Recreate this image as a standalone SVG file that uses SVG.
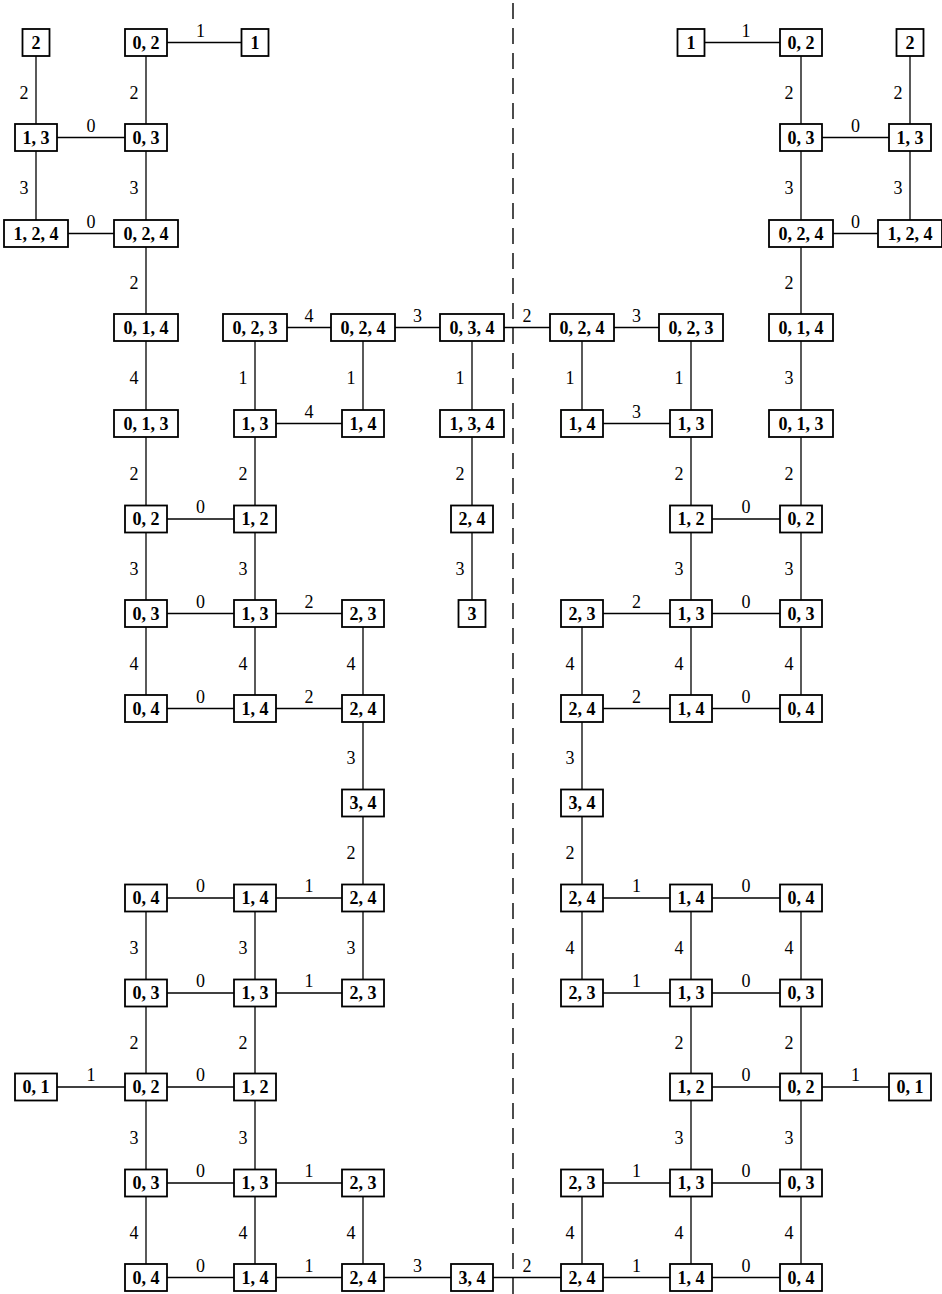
<svg xmlns="http://www.w3.org/2000/svg" width="942" height="1294" viewBox="0 0 942 1294">
<style>
.node rect{fill:#fff;stroke:#000;stroke-width:1.8}
.node text{font-family:"Liberation Serif","Times New Roman",serif;font-weight:bold;font-size:18px;text-anchor:middle;fill:#000}
#connectors line{stroke:#000;stroke-width:1.3}
#labels text{font-family:"Liberation Serif","Times New Roman",serif;font-size:18px;text-anchor:middle;fill:#000}
#divider{stroke:#000;stroke-width:1.4;stroke-dasharray:16 9}
</style>
<rect width="942" height="1294" fill="#fff"/>
<line id="divider" x1="513" y1="3" x2="513" y2="1294"/>
<g id="connectors">
<line x1="36" y1="42.5" x2="36" y2="137.5"/>
<line x1="146" y1="42.5" x2="255" y2="42.5"/>
<line x1="146" y1="42.5" x2="146" y2="137.5"/>
<line x1="36" y1="137.5" x2="146" y2="137.5"/>
<line x1="36" y1="137.5" x2="36" y2="233.5"/>
<line x1="146" y1="137.5" x2="146" y2="233.5"/>
<line x1="36" y1="233.5" x2="146" y2="233.5"/>
<line x1="146" y1="233.5" x2="146" y2="327.5"/>
<line x1="146" y1="327.5" x2="146" y2="423.5"/>
<line x1="146" y1="423.5" x2="146" y2="519"/>
<line x1="255" y1="327.5" x2="363" y2="327.5"/>
<line x1="363" y1="327.5" x2="472" y2="327.5"/>
<line x1="472" y1="327.5" x2="582" y2="327.5"/>
<line x1="255" y1="327.5" x2="255" y2="423.5"/>
<line x1="363" y1="327.5" x2="363" y2="423.5"/>
<line x1="472" y1="327.5" x2="472" y2="423.5"/>
<line x1="255" y1="423.5" x2="363" y2="423.5"/>
<line x1="255" y1="423.5" x2="255" y2="519"/>
<line x1="472" y1="423.5" x2="472" y2="519"/>
<line x1="146" y1="519" x2="255" y2="519"/>
<line x1="146" y1="519" x2="146" y2="613.5"/>
<line x1="255" y1="519" x2="255" y2="613.5"/>
<line x1="472" y1="519" x2="472" y2="613.5"/>
<line x1="146" y1="613.5" x2="255" y2="613.5"/>
<line x1="255" y1="613.5" x2="363" y2="613.5"/>
<line x1="146" y1="613.5" x2="146" y2="708.5"/>
<line x1="255" y1="613.5" x2="255" y2="708.5"/>
<line x1="363" y1="613.5" x2="363" y2="708.5"/>
<line x1="146" y1="708.5" x2="255" y2="708.5"/>
<line x1="255" y1="708.5" x2="363" y2="708.5"/>
<line x1="363" y1="708.5" x2="363" y2="803"/>
<line x1="363" y1="803" x2="363" y2="898"/>
<line x1="146" y1="898" x2="255" y2="898"/>
<line x1="255" y1="898" x2="363" y2="898"/>
<line x1="146" y1="898" x2="146" y2="993"/>
<line x1="255" y1="898" x2="255" y2="993"/>
<line x1="363" y1="898" x2="363" y2="993"/>
<line x1="146" y1="993" x2="255" y2="993"/>
<line x1="255" y1="993" x2="363" y2="993"/>
<line x1="146" y1="993" x2="146" y2="1087"/>
<line x1="255" y1="993" x2="255" y2="1087"/>
<line x1="36" y1="1087" x2="146" y2="1087"/>
<line x1="146" y1="1087" x2="255" y2="1087"/>
<line x1="146" y1="1087" x2="146" y2="1183"/>
<line x1="255" y1="1087" x2="255" y2="1183"/>
<line x1="146" y1="1183" x2="255" y2="1183"/>
<line x1="255" y1="1183" x2="363" y2="1183"/>
<line x1="146" y1="1183" x2="146" y2="1277.5"/>
<line x1="255" y1="1183" x2="255" y2="1277.5"/>
<line x1="363" y1="1183" x2="363" y2="1277.5"/>
<line x1="146" y1="1277.5" x2="255" y2="1277.5"/>
<line x1="255" y1="1277.5" x2="363" y2="1277.5"/>
<line x1="363" y1="1277.5" x2="472" y2="1277.5"/>
<line x1="472" y1="1277.5" x2="582" y2="1277.5"/>
<line x1="691" y1="42.5" x2="801" y2="42.5"/>
<line x1="801" y1="42.5" x2="801" y2="137.5"/>
<line x1="910" y1="42.5" x2="910" y2="137.5"/>
<line x1="801" y1="137.5" x2="910" y2="137.5"/>
<line x1="801" y1="137.5" x2="801" y2="233.5"/>
<line x1="910" y1="137.5" x2="910" y2="233.5"/>
<line x1="801" y1="233.5" x2="910" y2="233.5"/>
<line x1="801" y1="233.5" x2="801" y2="327.5"/>
<line x1="582" y1="327.5" x2="691" y2="327.5"/>
<line x1="582" y1="327.5" x2="582" y2="423.5"/>
<line x1="691" y1="327.5" x2="691" y2="423.5"/>
<line x1="801" y1="327.5" x2="801" y2="423.5"/>
<line x1="582" y1="423.5" x2="691" y2="423.5"/>
<line x1="691" y1="423.5" x2="691" y2="519"/>
<line x1="801" y1="423.5" x2="801" y2="519"/>
<line x1="691" y1="519" x2="801" y2="519"/>
<line x1="691" y1="519" x2="691" y2="613.5"/>
<line x1="801" y1="519" x2="801" y2="613.5"/>
<line x1="582" y1="613.5" x2="691" y2="613.5"/>
<line x1="691" y1="613.5" x2="801" y2="613.5"/>
<line x1="582" y1="613.5" x2="582" y2="708.5"/>
<line x1="691" y1="613.5" x2="691" y2="708.5"/>
<line x1="801" y1="613.5" x2="801" y2="708.5"/>
<line x1="582" y1="708.5" x2="691" y2="708.5"/>
<line x1="691" y1="708.5" x2="801" y2="708.5"/>
<line x1="582" y1="708.5" x2="582" y2="803"/>
<line x1="582" y1="803" x2="582" y2="898"/>
<line x1="582" y1="898" x2="691" y2="898"/>
<line x1="691" y1="898" x2="801" y2="898"/>
<line x1="582" y1="898" x2="582" y2="993"/>
<line x1="691" y1="898" x2="691" y2="993"/>
<line x1="801" y1="898" x2="801" y2="993"/>
<line x1="582" y1="993" x2="691" y2="993"/>
<line x1="691" y1="993" x2="801" y2="993"/>
<line x1="691" y1="993" x2="691" y2="1087"/>
<line x1="801" y1="993" x2="801" y2="1087"/>
<line x1="691" y1="1087" x2="801" y2="1087"/>
<line x1="801" y1="1087" x2="910" y2="1087"/>
<line x1="691" y1="1087" x2="691" y2="1183"/>
<line x1="801" y1="1087" x2="801" y2="1183"/>
<line x1="582" y1="1183" x2="691" y2="1183"/>
<line x1="691" y1="1183" x2="801" y2="1183"/>
<line x1="582" y1="1183" x2="582" y2="1277.5"/>
<line x1="691" y1="1183" x2="691" y2="1277.5"/>
<line x1="801" y1="1183" x2="801" y2="1277.5"/>
<line x1="582" y1="1277.5" x2="691" y2="1277.5"/>
<line x1="691" y1="1277.5" x2="801" y2="1277.5"/>
</g>
<g id="labels">
<text x="24" y="98.5">2</text>
<text x="200.5" y="36.5">1</text>
<text x="134" y="98.5">2</text>
<text x="91" y="131.5">0</text>
<text x="24" y="194">3</text>
<text x="134" y="194">3</text>
<text x="91" y="227.5">0</text>
<text x="134" y="289">2</text>
<text x="134" y="384">4</text>
<text x="134" y="480">2</text>
<text x="309" y="321.5">4</text>
<text x="417.5" y="321.5">3</text>
<text x="527" y="321.5">2</text>
<text x="243" y="384">1</text>
<text x="351" y="384">1</text>
<text x="460" y="384">1</text>
<text x="309" y="417.5">4</text>
<text x="243" y="480">2</text>
<text x="460" y="480">2</text>
<text x="200.5" y="513">0</text>
<text x="134" y="575">3</text>
<text x="243" y="575">3</text>
<text x="460" y="575">3</text>
<text x="200.5" y="607.5">0</text>
<text x="309" y="607.5">2</text>
<text x="134" y="669.5">4</text>
<text x="243" y="669.5">4</text>
<text x="351" y="669.5">4</text>
<text x="200.5" y="702.5">0</text>
<text x="309" y="702.5">2</text>
<text x="351" y="764">3</text>
<text x="351" y="859">2</text>
<text x="200.5" y="892">0</text>
<text x="309" y="892">1</text>
<text x="134" y="954">3</text>
<text x="243" y="954">3</text>
<text x="351" y="954">3</text>
<text x="200.5" y="987">0</text>
<text x="309" y="987">1</text>
<text x="134" y="1048.5">2</text>
<text x="243" y="1048.5">2</text>
<text x="91" y="1081">1</text>
<text x="200.5" y="1081">0</text>
<text x="134" y="1143.5">3</text>
<text x="243" y="1143.5">3</text>
<text x="200.5" y="1177">0</text>
<text x="309" y="1177">1</text>
<text x="134" y="1239">4</text>
<text x="243" y="1239">4</text>
<text x="351" y="1239">4</text>
<text x="200.5" y="1271.5">0</text>
<text x="309" y="1271.5">1</text>
<text x="417.5" y="1271.5">3</text>
<text x="527" y="1271.5">2</text>
<text x="746" y="36.5">1</text>
<text x="789" y="98.5">2</text>
<text x="898" y="98.5">2</text>
<text x="855.5" y="131.5">0</text>
<text x="789" y="194">3</text>
<text x="898" y="194">3</text>
<text x="855.5" y="227.5">0</text>
<text x="789" y="289">2</text>
<text x="636.5" y="321.5">3</text>
<text x="570" y="384">1</text>
<text x="679" y="384">1</text>
<text x="789" y="384">3</text>
<text x="636.5" y="417.5">3</text>
<text x="679" y="480">2</text>
<text x="789" y="480">2</text>
<text x="746" y="513">0</text>
<text x="679" y="575">3</text>
<text x="789" y="575">3</text>
<text x="636.5" y="607.5">2</text>
<text x="746" y="607.5">0</text>
<text x="570" y="669.5">4</text>
<text x="679" y="669.5">4</text>
<text x="789" y="669.5">4</text>
<text x="636.5" y="702.5">2</text>
<text x="746" y="702.5">0</text>
<text x="570" y="764">3</text>
<text x="570" y="859">2</text>
<text x="636.5" y="892">1</text>
<text x="746" y="892">0</text>
<text x="570" y="954">4</text>
<text x="679" y="954">4</text>
<text x="789" y="954">4</text>
<text x="636.5" y="987">1</text>
<text x="746" y="987">0</text>
<text x="679" y="1048.5">2</text>
<text x="789" y="1048.5">2</text>
<text x="746" y="1081">0</text>
<text x="855.5" y="1081">1</text>
<text x="679" y="1143.5">3</text>
<text x="789" y="1143.5">3</text>
<text x="636.5" y="1177">1</text>
<text x="746" y="1177">0</text>
<text x="570" y="1239">4</text>
<text x="679" y="1239">4</text>
<text x="789" y="1239">4</text>
<text x="636.5" y="1271.5">1</text>
<text x="746" y="1271.5">0</text>
</g>
<g id="nL01" class="node"><rect x="22.5" y="29" width="27" height="27"/><text x="36" y="48.5">2</text></g>
<g id="nL02" class="node"><rect x="125" y="29" width="42" height="27"/><text x="146" y="48.5">0, 2</text></g>
<g id="nL03" class="node"><rect x="241.5" y="29" width="27" height="27"/><text x="255" y="48.5">1</text></g>
<g id="nL04" class="node"><rect x="15" y="124" width="42" height="27"/><text x="36" y="143.5">1, 3</text></g>
<g id="nL05" class="node"><rect x="125" y="124" width="42" height="27"/><text x="146" y="143.5">0, 3</text></g>
<g id="nL06" class="node"><rect x="4" y="220" width="64" height="27"/><text x="36" y="239.5">1, 2, 4</text></g>
<g id="nL07" class="node"><rect x="114" y="220" width="64" height="27"/><text x="146" y="239.5">0, 2, 4</text></g>
<g id="nL08" class="node"><rect x="114" y="314" width="64" height="27"/><text x="146" y="333.5">0, 1, 4</text></g>
<g id="nL09" class="node"><rect x="223" y="314" width="64" height="27"/><text x="255" y="333.5">0, 2, 3</text></g>
<g id="nL10" class="node"><rect x="331" y="314" width="64" height="27"/><text x="363" y="333.5">0, 2, 4</text></g>
<g id="nL11" class="node"><rect x="440" y="314" width="64" height="27"/><text x="472" y="333.5">0, 3, 4</text></g>
<g id="nL12" class="node"><rect x="114" y="410" width="64" height="27"/><text x="146" y="429.5">0, 1, 3</text></g>
<g id="nL13" class="node"><rect x="234" y="410" width="42" height="27"/><text x="255" y="429.5">1, 3</text></g>
<g id="nL14" class="node"><rect x="342" y="410" width="42" height="27"/><text x="363" y="429.5">1, 4</text></g>
<g id="nL15" class="node"><rect x="440" y="410" width="64" height="27"/><text x="472" y="429.5">1, 3, 4</text></g>
<g id="nL16" class="node"><rect x="125" y="505.5" width="42" height="27"/><text x="146" y="525">0, 2</text></g>
<g id="nL17" class="node"><rect x="234" y="505.5" width="42" height="27"/><text x="255" y="525">1, 2</text></g>
<g id="nL18" class="node"><rect x="451" y="505.5" width="42" height="27"/><text x="472" y="525">2, 4</text></g>
<g id="nL19" class="node"><rect x="125" y="600" width="42" height="27"/><text x="146" y="619.5">0, 3</text></g>
<g id="nL20" class="node"><rect x="234" y="600" width="42" height="27"/><text x="255" y="619.5">1, 3</text></g>
<g id="nL21" class="node"><rect x="342" y="600" width="42" height="27"/><text x="363" y="619.5">2, 3</text></g>
<g id="nL22" class="node"><rect x="458.5" y="600" width="27" height="27"/><text x="472" y="619.5">3</text></g>
<g id="nL23" class="node"><rect x="125" y="695" width="42" height="27"/><text x="146" y="714.5">0, 4</text></g>
<g id="nL24" class="node"><rect x="234" y="695" width="42" height="27"/><text x="255" y="714.5">1, 4</text></g>
<g id="nL25" class="node"><rect x="342" y="695" width="42" height="27"/><text x="363" y="714.5">2, 4</text></g>
<g id="nL26" class="node"><rect x="342" y="789.5" width="42" height="27"/><text x="363" y="809">3, 4</text></g>
<g id="nL27" class="node"><rect x="125" y="884.5" width="42" height="27"/><text x="146" y="904">0, 4</text></g>
<g id="nL28" class="node"><rect x="234" y="884.5" width="42" height="27"/><text x="255" y="904">1, 4</text></g>
<g id="nL29" class="node"><rect x="342" y="884.5" width="42" height="27"/><text x="363" y="904">2, 4</text></g>
<g id="nL30" class="node"><rect x="125" y="979.5" width="42" height="27"/><text x="146" y="999">0, 3</text></g>
<g id="nL31" class="node"><rect x="234" y="979.5" width="42" height="27"/><text x="255" y="999">1, 3</text></g>
<g id="nL32" class="node"><rect x="342" y="979.5" width="42" height="27"/><text x="363" y="999">2, 3</text></g>
<g id="nL33" class="node"><rect x="15" y="1073.5" width="42" height="27"/><text x="36" y="1093">0, 1</text></g>
<g id="nL34" class="node"><rect x="125" y="1073.5" width="42" height="27"/><text x="146" y="1093">0, 2</text></g>
<g id="nL35" class="node"><rect x="234" y="1073.5" width="42" height="27"/><text x="255" y="1093">1, 2</text></g>
<g id="nL36" class="node"><rect x="125" y="1169.5" width="42" height="27"/><text x="146" y="1189">0, 3</text></g>
<g id="nL37" class="node"><rect x="234" y="1169.5" width="42" height="27"/><text x="255" y="1189">1, 3</text></g>
<g id="nL38" class="node"><rect x="342" y="1169.5" width="42" height="27"/><text x="363" y="1189">2, 3</text></g>
<g id="nL39" class="node"><rect x="125" y="1264" width="42" height="27"/><text x="146" y="1283.5">0, 4</text></g>
<g id="nL40" class="node"><rect x="234" y="1264" width="42" height="27"/><text x="255" y="1283.5">1, 4</text></g>
<g id="nL41" class="node"><rect x="342" y="1264" width="42" height="27"/><text x="363" y="1283.5">2, 4</text></g>
<g id="nL42" class="node"><rect x="451" y="1264" width="42" height="27"/><text x="472" y="1283.5">3, 4</text></g>
<g id="nR01" class="node"><rect x="677.5" y="29" width="27" height="27"/><text x="691" y="48.5">1</text></g>
<g id="nR02" class="node"><rect x="780" y="29" width="42" height="27"/><text x="801" y="48.5">0, 2</text></g>
<g id="nR03" class="node"><rect x="896.5" y="29" width="27" height="27"/><text x="910" y="48.5">2</text></g>
<g id="nR04" class="node"><rect x="780" y="124" width="42" height="27"/><text x="801" y="143.5">0, 3</text></g>
<g id="nR05" class="node"><rect x="889" y="124" width="42" height="27"/><text x="910" y="143.5">1, 3</text></g>
<g id="nR06" class="node"><rect x="769" y="220" width="64" height="27"/><text x="801" y="239.5">0, 2, 4</text></g>
<g id="nR07" class="node"><rect x="878" y="220" width="64" height="27"/><text x="910" y="239.5">1, 2, 4</text></g>
<g id="nR08" class="node"><rect x="550" y="314" width="64" height="27"/><text x="582" y="333.5">0, 2, 4</text></g>
<g id="nR09" class="node"><rect x="659" y="314" width="64" height="27"/><text x="691" y="333.5">0, 2, 3</text></g>
<g id="nR10" class="node"><rect x="769" y="314" width="64" height="27"/><text x="801" y="333.5">0, 1, 4</text></g>
<g id="nR11" class="node"><rect x="561" y="410" width="42" height="27"/><text x="582" y="429.5">1, 4</text></g>
<g id="nR12" class="node"><rect x="670" y="410" width="42" height="27"/><text x="691" y="429.5">1, 3</text></g>
<g id="nR13" class="node"><rect x="769" y="410" width="64" height="27"/><text x="801" y="429.5">0, 1, 3</text></g>
<g id="nR14" class="node"><rect x="670" y="505.5" width="42" height="27"/><text x="691" y="525">1, 2</text></g>
<g id="nR15" class="node"><rect x="780" y="505.5" width="42" height="27"/><text x="801" y="525">0, 2</text></g>
<g id="nR16" class="node"><rect x="561" y="600" width="42" height="27"/><text x="582" y="619.5">2, 3</text></g>
<g id="nR17" class="node"><rect x="670" y="600" width="42" height="27"/><text x="691" y="619.5">1, 3</text></g>
<g id="nR18" class="node"><rect x="780" y="600" width="42" height="27"/><text x="801" y="619.5">0, 3</text></g>
<g id="nR19" class="node"><rect x="561" y="695" width="42" height="27"/><text x="582" y="714.5">2, 4</text></g>
<g id="nR20" class="node"><rect x="670" y="695" width="42" height="27"/><text x="691" y="714.5">1, 4</text></g>
<g id="nR21" class="node"><rect x="780" y="695" width="42" height="27"/><text x="801" y="714.5">0, 4</text></g>
<g id="nR22" class="node"><rect x="561" y="789.5" width="42" height="27"/><text x="582" y="809">3, 4</text></g>
<g id="nR23" class="node"><rect x="561" y="884.5" width="42" height="27"/><text x="582" y="904">2, 4</text></g>
<g id="nR24" class="node"><rect x="670" y="884.5" width="42" height="27"/><text x="691" y="904">1, 4</text></g>
<g id="nR25" class="node"><rect x="780" y="884.5" width="42" height="27"/><text x="801" y="904">0, 4</text></g>
<g id="nR26" class="node"><rect x="561" y="979.5" width="42" height="27"/><text x="582" y="999">2, 3</text></g>
<g id="nR27" class="node"><rect x="670" y="979.5" width="42" height="27"/><text x="691" y="999">1, 3</text></g>
<g id="nR28" class="node"><rect x="780" y="979.5" width="42" height="27"/><text x="801" y="999">0, 3</text></g>
<g id="nR29" class="node"><rect x="670" y="1073.5" width="42" height="27"/><text x="691" y="1093">1, 2</text></g>
<g id="nR30" class="node"><rect x="780" y="1073.5" width="42" height="27"/><text x="801" y="1093">0, 2</text></g>
<g id="nR31" class="node"><rect x="889" y="1073.5" width="42" height="27"/><text x="910" y="1093">0, 1</text></g>
<g id="nR32" class="node"><rect x="561" y="1169.5" width="42" height="27"/><text x="582" y="1189">2, 3</text></g>
<g id="nR33" class="node"><rect x="670" y="1169.5" width="42" height="27"/><text x="691" y="1189">1, 3</text></g>
<g id="nR34" class="node"><rect x="780" y="1169.5" width="42" height="27"/><text x="801" y="1189">0, 3</text></g>
<g id="nR35" class="node"><rect x="561" y="1264" width="42" height="27"/><text x="582" y="1283.5">2, 4</text></g>
<g id="nR36" class="node"><rect x="670" y="1264" width="42" height="27"/><text x="691" y="1283.5">1, 4</text></g>
<g id="nR37" class="node"><rect x="780" y="1264" width="42" height="27"/><text x="801" y="1283.5">0, 4</text></g>
</svg>
